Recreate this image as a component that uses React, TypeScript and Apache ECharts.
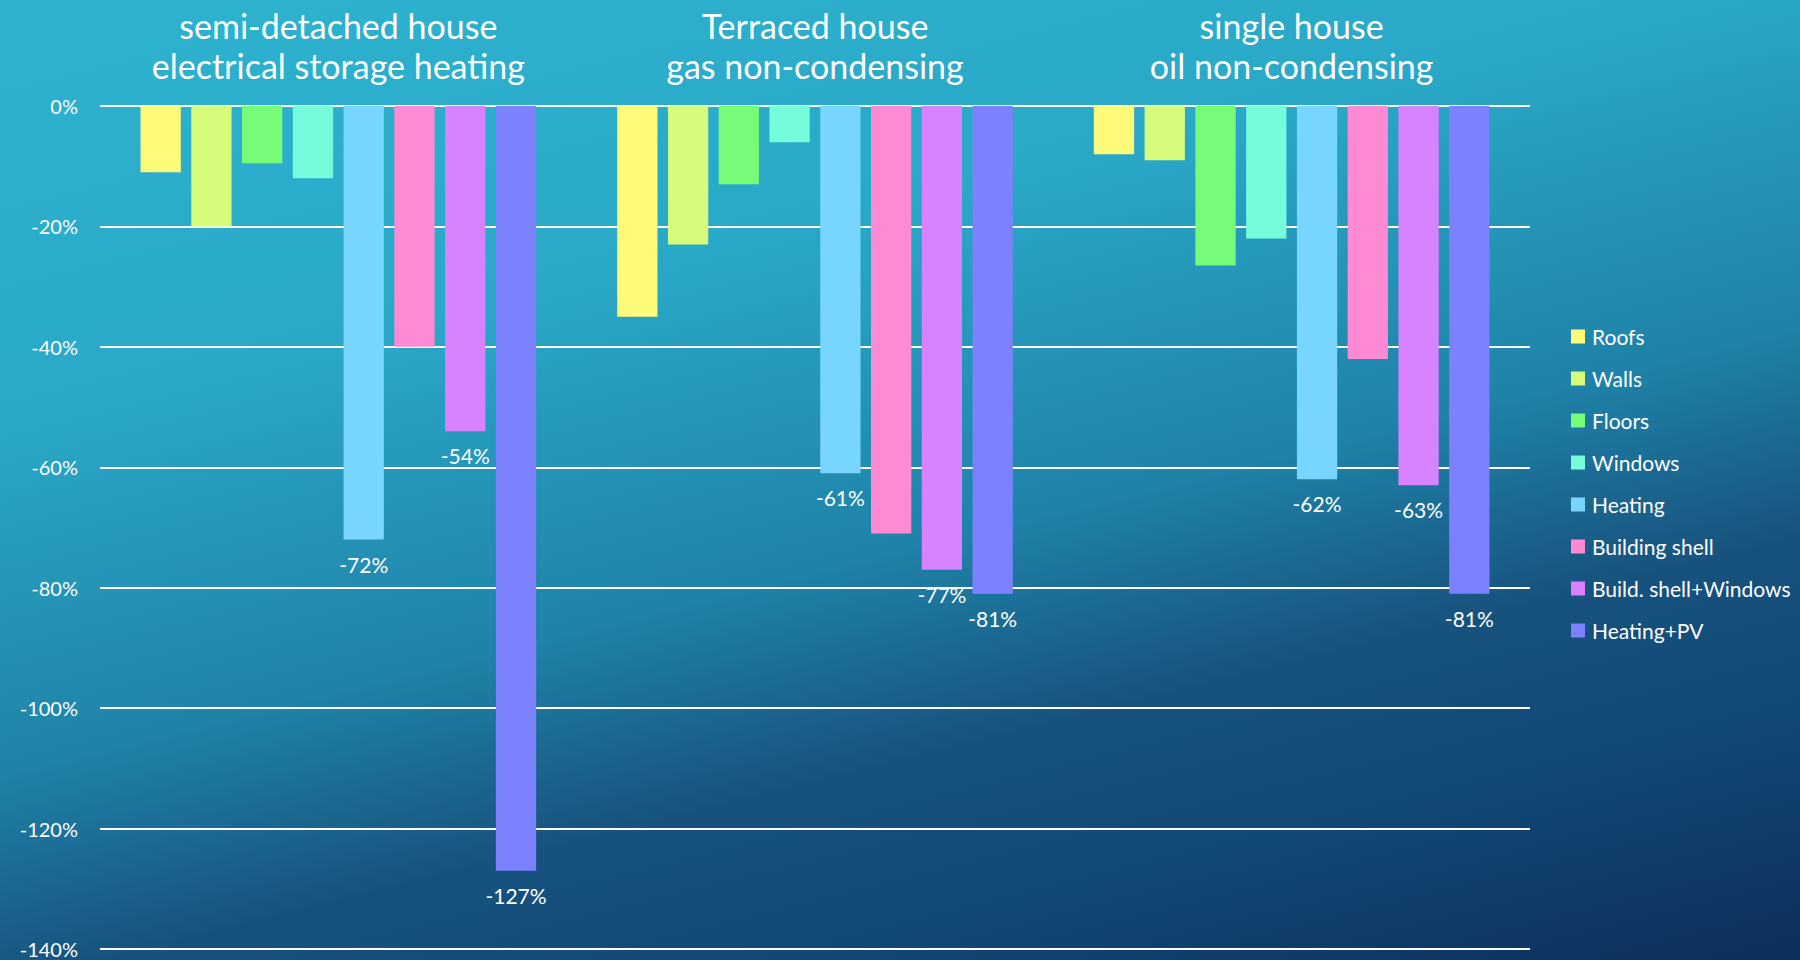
import React, { useEffect, useRef } from "react";
import * as echarts from "echarts";

// House types (drawn as two-line headings above each group)
const categories = [
  "semi-detached house\nelectrical storage heating",
  "Terraced house\ngas non-condensing",
  "single house\noil non-condensing",
];

const seriesNames = [
  "Roofs",
  "Walls",
  "Floors",
  "Windows",
  "Heating",
  "Building shell",
  "Build. shell+Windows",
  "Heating+PV",
];

// Change in energy demand per measure, in percent
const roofs = [-11, -35, -8];
const walls = [-20, -23, -9];
const floors = [-9.5, -13, -26.5];
const windows = [-12, -6, -22];
const heating = [-72, -61, -62];
const buildingShell = [-40, -71, -42];
const shellWindows = [-54, -77, -63];
const heatingPv = [-127, -81, -81];

const yTicks = { min: -140, max: 0, interval: 20 };

const seriesColors = [
  "#FFFB7A",
  "#D7FB7A",
  "#77FC7A",
  "#76FCDA",
  "#78D6FE",
  "#FF8AD4",
  "#D782FE",
  "#7C82FE",
];

// Only these measures carry value labels
const labelled = new Set(["Heating", "Build. shell+Windows", "Heating+PV"]);

const FONT = "Lato, 'Open Sans', sans-serif";

export default function App() {
  const ref = useRef<HTMLDivElement>(null);

  useEffect(() => {
    if (!ref.current) return;
    const chart = echarts.init(ref.current, undefined, { renderer: "svg" });
    const values = [
      roofs,
      walls,
      floors,
      windows,
      heating,
      buildingShell,
      shellWindows,
      heatingPv,
    ];

    chart.setOption({
      animation: false,
      backgroundColor: new echarts.graphic.LinearGradient(0, 0, 0.563, 1.205, [
        { offset: 0, color: "#2DB3CF" },
        { offset: 0.3, color: "#2AA8C8" },
        { offset: 0.55, color: "#1F82A8" },
        { offset: 0.7, color: "#17527E" },
        { offset: 0.82, color: "#124876" },
        { offset: 1, color: "#0D2E5A" },
      ]),
      textStyle: { fontFamily: FONT },
      grid: { left: 100, right: 270, top: 106, height: 843 },
      legend: {
        orient: "vertical",
        left: 1566,
        top: 321,
        itemWidth: 14,
        itemHeight: 14,
        itemGap: 21,
        icon: "rect",
        data: seriesNames,
        textStyle: {
          color: "#ffffff",
          fontSize: 21,
          lineHeight: 21,
          fontFamily: FONT,
          padding: [0, 0, 0, 2],
        },
      },
      xAxis: {
        type: "category",
        position: "top",
        data: categories,
        axisLine: { show: false },
        axisTick: { show: false },
        axisLabel: {
          interval: 0,
          hideOverlap: false,
          color: "#ffffff",
          fontSize: 34,
          lineHeight: 40,
          margin: 21,
          fontFamily: FONT,
        },
      },
      yAxis: {
        type: "value",
        min: yTicks.min,
        max: yTicks.max,
        interval: yTicks.interval,
        axisLine: { show: false },
        axisTick: { show: false },
        axisLabel: {
          color: "#ffffff",
          fontSize: 20,
          margin: 22,
          fontFamily: FONT,
          formatter: "{value}%",
        },
        splitLine: { lineStyle: { color: "#ffffff", width: 2 } },
      },
      series: seriesNames.map((name, i) => ({
        name,
        type: "bar",
        data: values[i],
        barGap: "26%",
        barCategoryGap: "17%",
        itemStyle: { color: seriesColors[i] },
        label: {
          show: labelled.has(name),
          position: "outside",
          distance: 14,
          color: "#ffffff",
          fontSize: 21,
          fontFamily: FONT,
          formatter: (p: any) => `${Math.round(p.value)}%`,
        },
      })),
    });

    return () => chart.dispose();
  }, []);

  return (
    <div
      ref={ref}
      style={{ position: "fixed", left: 0, top: 0, width: 1800, height: 960 }}
    />
  );
}
